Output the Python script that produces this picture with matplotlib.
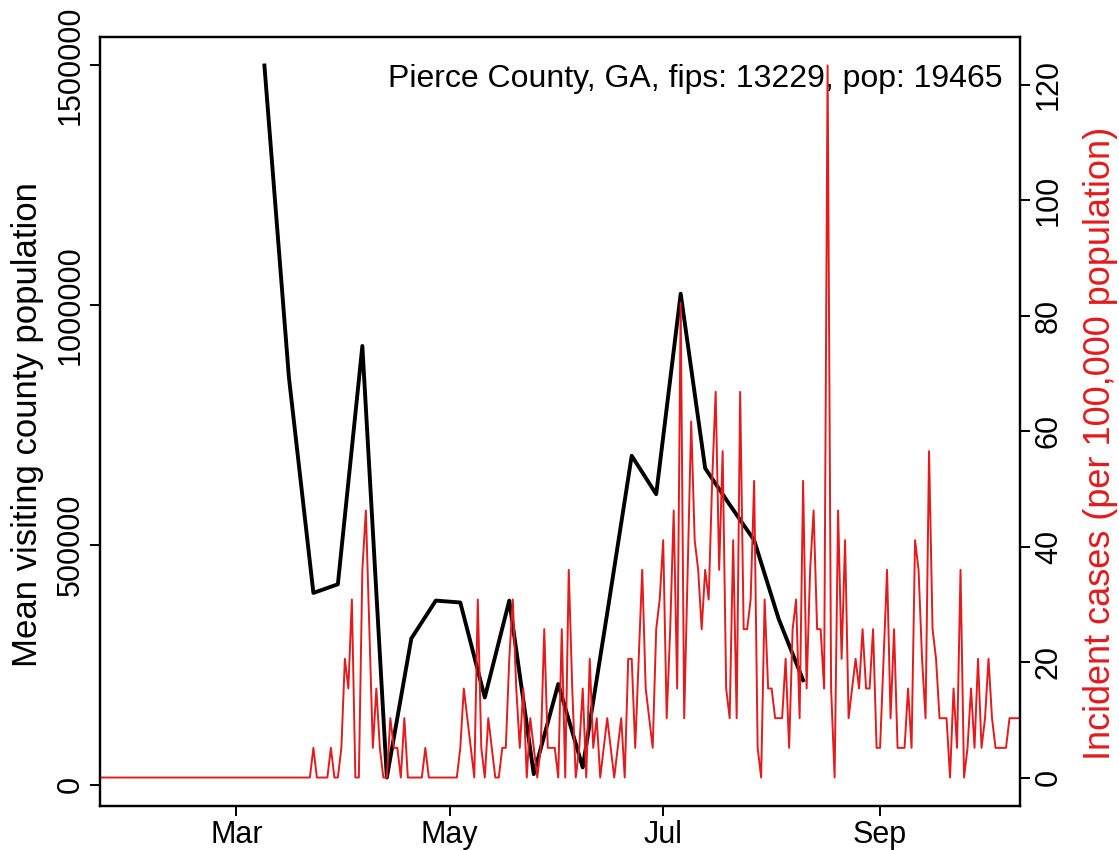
import numpy as np
import pandas as pd
import matplotlib
matplotlib.use('Agg')
import matplotlib.pyplot as plt

plt.rcParams['font.family'] = ['Liberation Sans', 'DejaVu Sans']

county = 'Pierce County, GA'
fips = 13229
pop = 19465

# weekly mean visiting county population (left axis), weeks starting 2020-03-09
week_start = '2020-03-09'
visitors = [1500000, 850000, 400000, 418000, 915000, 15000, 305000, 384000,
            380000, 182000, 384000, 22000, 210000, 36000, 358000, 686000,
            606000, 1024000, 660000, 584000, 510000, 346000, 218000]

# daily new cases, starting 2020-01-22
case_start = '2020-01-22'
new_cases = [0, 0, 0, 0, 0, 0, 0, 0, 0, 0, 0, 0, 0, 0, 0, 0, 0, 0, 0, 0,
             0, 0, 0, 0, 0, 0, 0, 0, 0, 0, 0, 0, 0, 0, 0, 0, 0, 0, 0, 0,
             0, 0, 0, 0, 0, 0, 0, 0, 0, 0, 0, 0, 0, 0, 0, 0, 0, 0, 0, 0, 0,
             1, 0, 0, 0, 0, 1, 0, 0, 1, 4,
             3, 6, 0, 0, 7, 9, 5, 1, 3, 1,
             0, 0, 2, 1, 1, 0, 2, 0, 0, 0,
             0, 0, 1, 0, 0, 0, 0, 0, 0, 0,
             0, 0, 1, 3, 2, 1, 0, 6, 1, 0,
             2, 1, 0, 0, 1, 1, 4, 6, 3, 1,
             3, 0, 2, 1, 0, 1, 5, 1, 1, 1,
             0, 5, 0, 7, 3, 0, 1, 3, 0, 4,
             1, 2, 0, 1, 2, 1, 0, 1, 2, 0,
             4, 4, 1, 4, 7, 3, 2, 1, 5, 6,
             8, 2, 5, 9, 3, 16, 2, 7, 12, 8,
             7, 5, 7, 6, 10, 13, 7, 11, 3, 2,
             8, 2, 13, 5, 5, 6, 10, 1, 0, 6,
             3, 3, 2, 2, 2, 4, 1, 5, 6, 2,
             10, 3, 7, 9, 5, 5, 3, 24, 3, 0,
             9, 4, 8, 2, 3, 4, 3, 5, 3, 3,
             5, 1, 1, 4, 7, 2, 5, 1, 1, 1,
             3, 1, 8, 7, 4, 2, 11, 5, 4, 2,
             2, 2, 0, 3, 1, 7, 0, 1, 3, 1,
             4, 1, 2, 4, 2, 1, 1, 1, 1, 2,
             2, 2, 2]

month_ticks = ['2020-03-01', '2020-05-01', '2020-07-01', '2020-09-01']
month_labels = ['Mar', 'May', 'Jul', 'Sep']
left_ticks = [0, 500000, 1000000, 1500000]
right_ticks = [0, 20, 40, 60, 80, 100, 120]

weeks = pd.date_range(week_start, periods=len(visitors), freq='7D')
days = pd.date_range(case_start, periods=len(new_cases), freq='D')
incidence = np.array(new_cases) / pop * 100000

red = '#E41A1C'


def r_range(v):
    # R style axis range: data range plus 4% each side
    lo, hi = np.min(v), np.max(v)
    d = (hi - lo) * 0.04
    return lo - d, hi + d


fig = plt.figure(figsize=(11.19, 8.5), dpi=100)
ax1 = fig.add_axes([100/1119, 44/850, 920/1119, 769/850])
ax2 = ax1.twinx()

ax1.plot(weeks, visitors, color='black', lw=2.8, solid_joinstyle='round')
ax2.plot(days, incidence, color=red, lw=1.4)

ax1.set_xlim(days[0], days[-1])
ax1.set_ylim(*r_range(visitors))
ax2.set_ylim(*r_range(incidence))

ax1.set_xticks(pd.to_datetime(month_ticks))
ax1.set_xticklabels(month_labels)
ax1.set_yticks(left_ticks)
ax1.set_yticklabels([str(t) for t in left_ticks], rotation=90, va='center')
ax2.set_yticks(right_ticks)
ax2.set_yticklabels([str(t) for t in right_ticks], rotation=90, va='center')

for ax in (ax1, ax2):
    ax.tick_params(direction='out', length=7, width=1.4, labelsize=22, pad=3)
    for s in ax.spines.values():
        s.set_linewidth(1.6)

ax1.text(0.9815, 0.945, '%s, fips: %d, pop: %d' % (county, fips, pop),
         transform=ax1.transAxes, ha='right', va='center', fontsize=23)

fig.text(28/1119, 1 - 425/850, 'Mean visiting county population', rotation=90,
         ha='center', va='center', fontsize=25)
fig.text(1100/1119, 1 - 443/850, 'Incident cases (per 100,000 population)',
         rotation=90, ha='center', va='center', fontsize=26, color=red)

fig.savefig('out.png', dpi=100)
